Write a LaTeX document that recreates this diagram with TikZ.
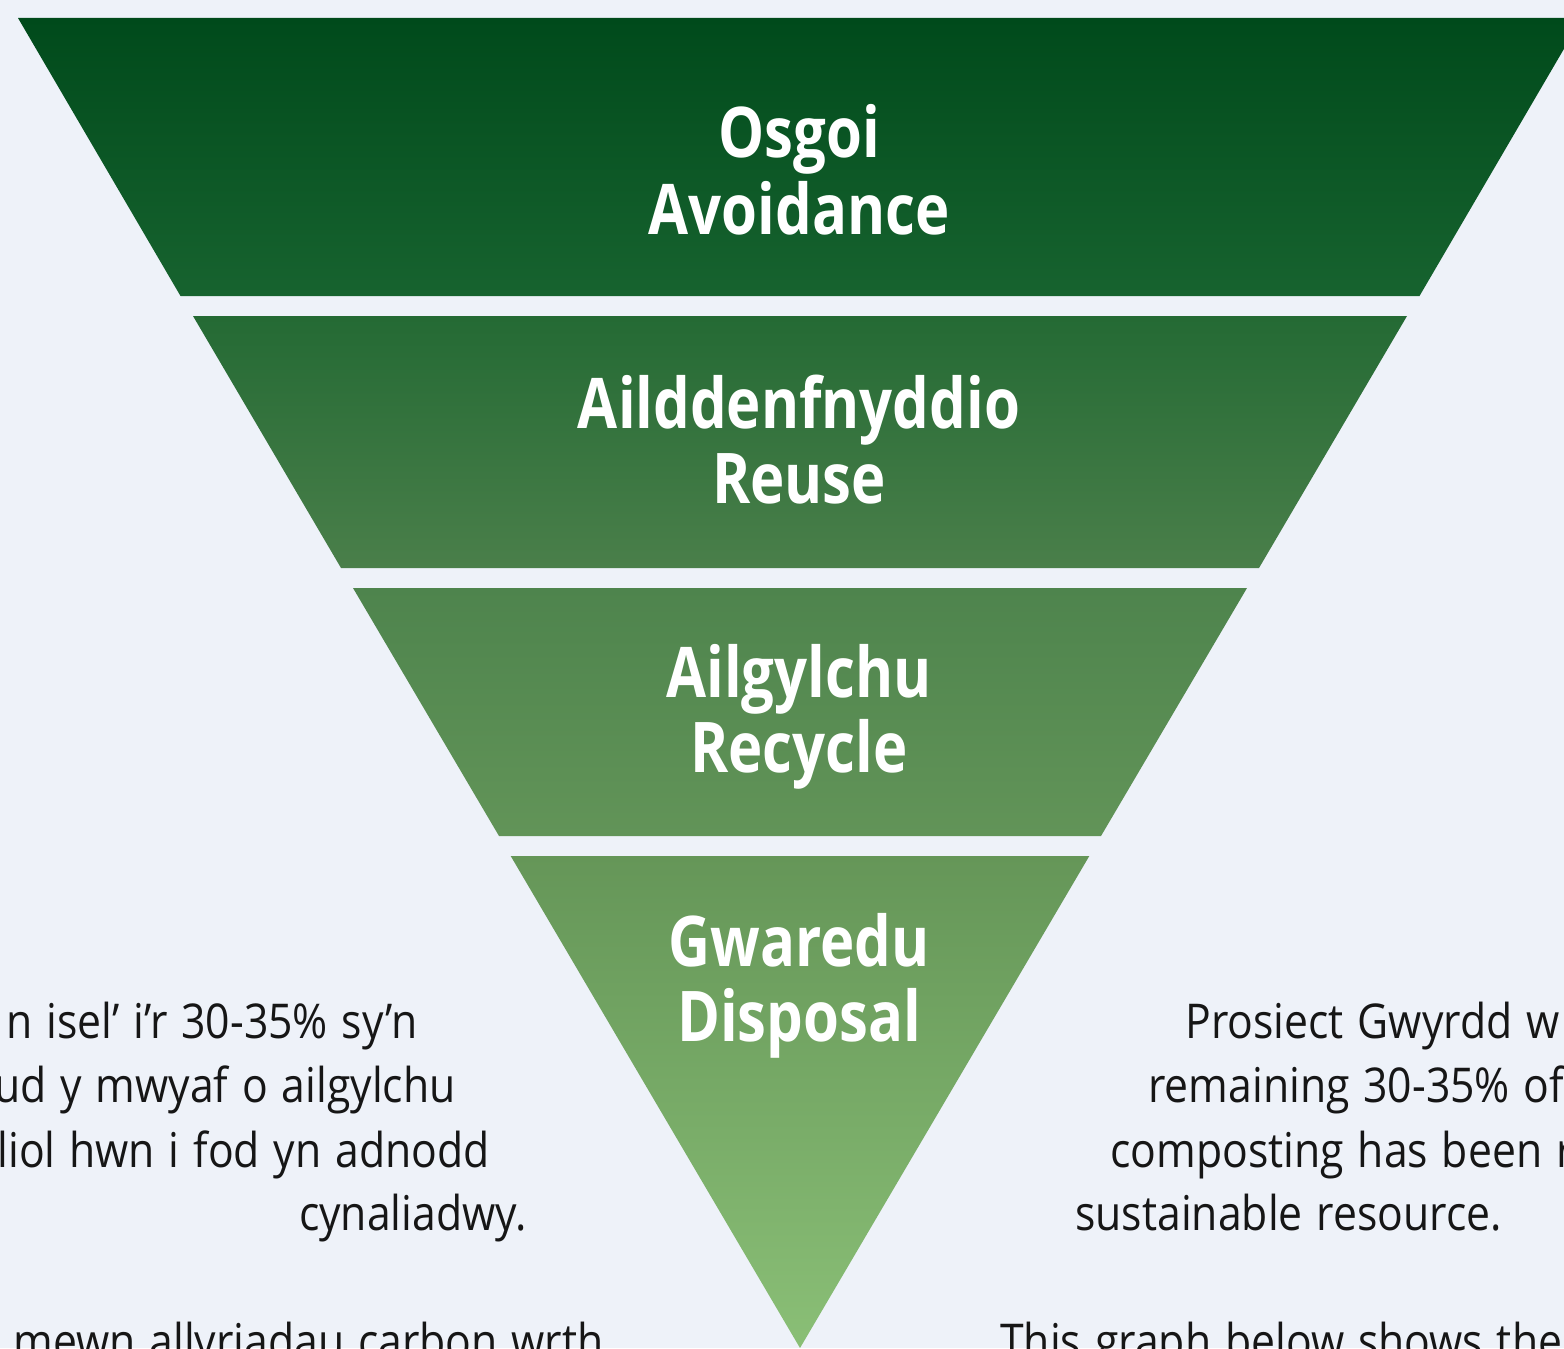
\documentclass[tikz,border=0pt]{standalone}
\usepackage{fontspec}
\setmainfont{Open Sans}
\newfontfamily\titlefont[FakeStretch=0.83]{Open Sans}
\newfontfamily\bodyfont[FakeStretch=0.89,WordSpace=1.25]{Open Sans}
\definecolor{bg}{HTML}{EEF2F9}
\definecolor{gA}{HTML}{004A1B}
\definecolor{gB}{HTML}{17632F}
\definecolor{gC}{HTML}{246A34}
\definecolor{gD}{HTML}{4A7F4A}
\definecolor{gE}{HTML}{4E844D}
\definecolor{gF}{HTML}{629458}
\definecolor{gG}{HTML}{659658}
\definecolor{gH}{HTML}{8ABF76}
\definecolor{ink}{HTML}{161616}
\tikzset{
  title/.style={inner sep=0pt, anchor=base, text=white, font=\titlefont\bfseries\fontsize{39.8}{44}\selectfont},
  bodyL/.style={inner sep=0pt, anchor=base east, text=ink, font=\bodyfont\fontsize{27.3}{33}\selectfont},
  bodyR/.style={inner sep=0pt, anchor=base west, text=ink, font=\bodyfont\fontsize{27.3}{33}\selectfont},
}
\begin{document}
\begin{tikzpicture}[x=0.02cm, y=-0.02cm]
\useasboundingbox (0,0) rectangle (1564,1348);
\fill[bg] (0,0) rectangle (1564,1348);
\begin{scope}
\clip (0,0) rectangle (1564,1348);
% bands
\shade[top color=gA, bottom color=gB] (18,18) -- (1582,18) -- (1419.5,296) -- (180.5,296) -- cycle;
\shade[top color=gC, bottom color=gD] (193,316) -- (1407,316) -- (1259,568) -- (341,568) -- cycle;
\shade[top color=gE, bottom color=gF] (353,588) -- (1247,588) -- (1101,836) -- (499,836) -- cycle;
\shade[top color=gG, bottom color=gH] (510.7,856) -- (1089.3,856) -- (800,1348) -- cycle;
% band labels
\node[title] (t1a) at (799,158) {Osgoi};
\node[title] (t1b) at (799,235) {Avoidance};
\node[title] (t2a) at (799,428) {Ailddenfnyddio};
\node[title] (t2b) at (799,503) {Reuse};
\node[title] (t3a) at (799,697) {Ailgylchu};
\node[title] (t3b) at (799,772) {Recycle};
\node[title] (t4a) at (799,966) {Gwaredu};
\node[title] (t4b) at (799,1041) {Disposal};
% left text
\node[bodyL] (l1) at (418,1038) {n isel’ i’r 30-35\% sy’n};
\node[bodyL] (l2) at (456,1102) {ud y mwyaf o ailgylchu};
\node[bodyL] (l3) at (490,1167) {liol hwn i fod yn adnodd};
\node[bodyL] (l4) at (527,1230) {cynaliadwy.};
\node[bodyL] (l5) at (604,1358) {s mewn allyriadau carbon wrth};
% right text
\node[bodyR] (r1) at (1185,1038) {Prosiect Gwyrdd w};
\node[bodyR] (r2) at (1148,1102) {remaining 30-35\% of};
\node[bodyR] (r3) at (1110,1167) {composting has been r};
\node[bodyR] (r4) at (1075,1230) {sustainable resource.};
\node[bodyR] (r5) at (1000,1358) {This graph below shows the};
\end{scope}
\end{tikzpicture}
\end{document}
